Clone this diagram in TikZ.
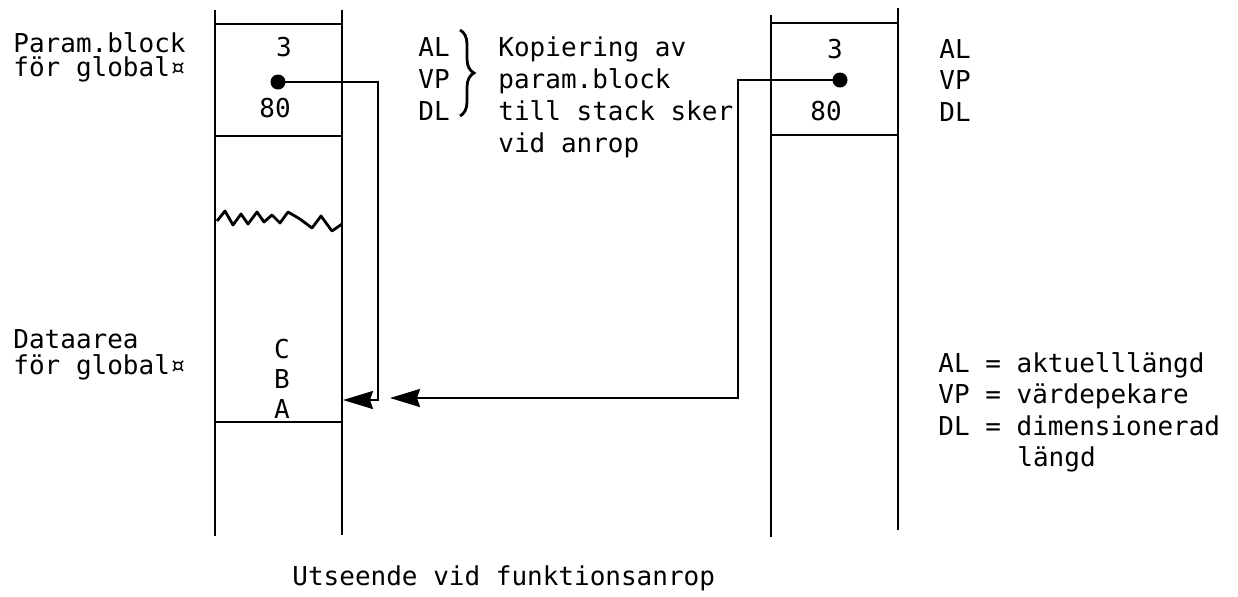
\documentclass[tikz,border=0pt]{standalone}
\usepackage{fontspec}
\newfontfamily\tw[FakeStretch=1.0]{DejaVu Sans Mono}
\usetikzlibrary{arrows.meta,decorations.pathreplacing}
\begin{document}
\begin{tikzpicture}[x=0.5pt,y=-0.5pt,
  txt/.style={font=\tw\fontsize{13}{15}\selectfont, inner sep=0pt, anchor=base west},
  ctxt/.style={txt, anchor=base},
  wall/.style={line width=1.4pt},
  conn/.style={line width=1.1pt},
  tip/.style={-{Stealth[length=15pt,width=9pt,inset=1.5pt]}},
  dot/.style={circle, fill, inner sep=0pt, minimum size=7.5pt}]
\useasboundingbox (0,0) rectangle (1238,596);

% left stack
\draw[wall] (215,10) -- (215,536);
\draw[wall] (342,10) -- (342,535);
\draw[wall] (215,24) -- (342,24);
\draw[wall] (215,136) -- (342,136);
\draw[wall] (215,422) -- (342,422);
\draw[wall, line join=round] (217,221) -- (225,211) -- (233,225) -- (241,214) -- (248,224) -- (257,212) -- (264,222) -- (272,215) -- (280,223) -- (288,212) -- (300,219) -- (312,228) -- (321,216) -- (332,231) -- (342,224);

% right stack
\draw[wall] (771,15) -- (771,537);
\draw[wall] (898,8) -- (898,530);
\draw[wall] (771,23) -- (898,23);
\draw[wall] (771,135) -- (898,135);

% left labels
\node[txt] (pb1) at (13,52) {Param.block};
\node[txt] (pb2) at (13,76) {för global¤};
\node[txt] (da1) at (13,348) {Dataarea};
\node[txt] (da2) at (13,374) {för global¤};

% left stack contents
\node[ctxt] (l3) at (284,56) {3};
\node[dot] (dotL) at (278,82) {};
\node[ctxt] (l80) at (275,117) {80};
\node[ctxt] (lC) at (282,358) {C};
\node[ctxt] (lB) at (282,388) {B};
\node[ctxt] (lA) at (282,418) {A};

% AL VP DL with brace
\node[txt] (al1) at (418,56) {AL};
\node[txt] (vp1) at (418,88) {VP};
\node[txt] (dl1) at (418,120) {DL};
\draw[wall, decorate, decoration={brace, amplitude=7pt}] (460,30) -- (460,116);
\node[txt] (k1) at (498,56) {Kopiering av};
\node[txt] (k2) at (498,88) {param.block};
\node[txt] (k3) at (498,120) {till stack sker};
\node[txt] (k4) at (498,152) {vid anrop};

% right stack contents
\node[ctxt] (r3) at (835,58) {3};
\node[dot] (dotR) at (840,80) {};
\node[ctxt] (r80) at (826,120) {80};
\node[txt] (al2) at (939,58) {AL};
\node[txt] (vp2) at (939,89) {VP};
\node[txt] (dl2) at (939,121) {DL};

% legend
\node[txt] (lg1) at (938,372) {AL = aktuelllängd};
\node[txt] (lg2) at (938,403) {VP = värdepekare};
\node[txt] (lg3) at (938,435) {DL = dimensionerad};
\node[txt] (lg4) at (1017,466) {längd};

% caption
\node[txt] (cap) at (292,585) {Utseende vid funktionsanrop};

% connectors
\coordinate (bendL) at (378,400);
\coordinate (tipL) at (343,400);
\coordinate (bendR) at (738,398);
\coordinate (tipR) at (390,398);
\draw[conn, tip] (dotL.center) -| (bendL) -- (tipL);
\draw[conn, tip] (dotR.center) -| (bendR) -- (tipR);
\end{tikzpicture}
\end{document}
